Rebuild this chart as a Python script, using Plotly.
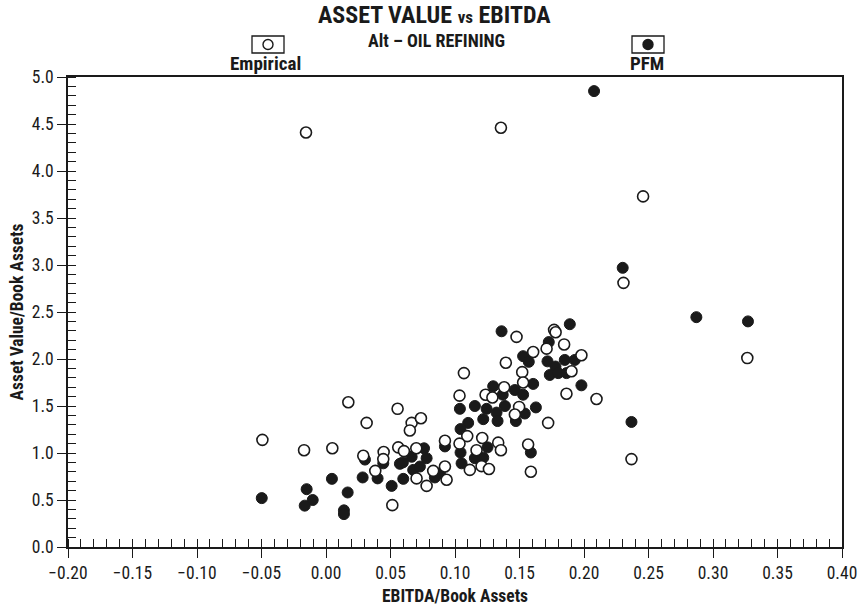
import plotly.graph_objects as go

# Empirical (open circles)
emp_x = [-0.0155, 0.1356, 0.2458, 0.2306, 0.3266, 0.198, 0.2097, 0.2368, -0.0493, -0.017,
         0.0049, 0.0173, 0.0315, 0.0555, 0.0664, 0.0736, 0.065, 0.0289, 0.0447, 0.0444,
         0.0382, 0.0514, 0.056, 0.0604, 0.070, 0.0702, 0.078, 0.0831, 0.1035, 0.1237,
         0.129, 0.1864, 0.1497, 0.1464, 0.1722, 0.1095, 0.0922, 0.1035, 0.1115, 0.1211,
         0.1167, 0.1206, 0.1263, 0.1335, 0.1356, 0.1567, 0.1588, 0.0922, 0.0935, 0.1477,
         0.1768, 0.178, 0.171, 0.1846, 0.1606, 0.1903, 0.1394, 0.1521, 0.1069, 0.1381,
         0.1528]
emp_y = [4.41, 4.46, 3.73, 2.81, 2.01, 2.04, 1.575, 0.935, 1.14, 1.03,
         1.05, 1.54, 1.32, 1.47, 1.32, 1.37, 1.24, 0.97, 1.01, 0.935,
         0.81, 0.445, 1.06, 1.02, 1.05, 0.73, 0.65, 0.81, 1.61, 1.62,
         1.59, 1.63, 1.49, 1.41, 1.32, 1.18, 1.13, 1.10, 0.82, 1.16,
         1.03, 0.86, 0.83, 1.11, 1.03, 1.09, 0.80, 0.856, 0.715, 2.235,
         2.31, 2.285, 2.11, 2.155, 2.075, 1.87, 1.96, 1.86, 1.85, 1.70,
         1.75]

# PFM (filled circles)
pfm_x = [0.2078, 0.230, 0.2871, 0.3271, 0.198, 0.2368, -0.0498, -0.015, -0.0103, -0.0165,
         0.0046, 0.0168, 0.0139, 0.0139, 0.0302, 0.0284, 0.040, 0.0444, 0.0509, 0.0599,
         0.0664, 0.0573, 0.0596, 0.0676, 0.0728, 0.076, 0.078, 0.137, 0.1464, 0.1528,
         0.1038, 0.1154, 0.1245, 0.1322, 0.1387, 0.1219, 0.133, 0.1472, 0.1541, 0.1627,
         0.1102, 0.1043, 0.0922, 0.1043, 0.1051, 0.1252, 0.1154, 0.1219, 0.1588, 0.0883,
         0.0844, 0.1361, 0.189, 0.1727, 0.1528, 0.1572, 0.1717, 0.1779, 0.1851, 0.1735,
         0.18, 0.1864, 0.1929, 0.1296, 0.1606]
pfm_y = [4.85, 2.97, 2.445, 2.40, 1.72, 1.33, 0.52, 0.615, 0.50, 0.44,
         0.725, 0.58, 0.39, 0.35, 0.93, 0.74, 0.73, 0.89, 0.65, 0.725,
         0.96, 0.885, 0.90, 0.82, 0.856, 1.05, 0.945, 1.62, 1.67, 1.62,
         1.47, 1.50, 1.47, 1.43, 1.50, 1.36, 1.34, 1.34, 1.42, 1.485,
         1.32, 1.255, 1.07, 1.005, 0.89, 1.06, 0.945, 0.95, 1.005, 0.785,
         0.74, 2.295, 2.37, 2.18, 2.03, 1.97, 1.975, 1.92, 1.99, 1.83,
         1.85, 1.85, 1.99, 1.71, 1.735]

title_main = "ASSET VALUE vs EBITDA"
title_sub = "Alt – OIL REFINING"
legend_names = ["Empirical", "PFM"]
x_title = "EBITDA/Book Assets"
y_title = "Asset Value/Book Assets"

FONT = "Liberation Sans Narrow, Arial Narrow, Roboto Condensed, Liberation Sans, sans-serif"
INK = "#1a1a1a"

fig = go.Figure()
fig.add_trace(go.Scatter(x=pfm_x, y=pfm_y, mode="markers", name=legend_names[1],
                         marker=dict(symbol="circle", size=11, color=INK,
                                     line=dict(color=INK, width=1))))
fig.add_trace(go.Scatter(x=emp_x, y=emp_y, mode="markers", name=legend_names[0],
                         marker=dict(symbol="circle", size=11, color="white",
                                     line=dict(color=INK, width=1.6))))

W, H = 866, 609
ml, mr, mt, mb = 68, 24, 77, 62

fig.update_layout(
    width=W, height=H,
    margin=dict(l=ml, r=mr, t=mt, b=mb, autoexpand=False),
    paper_bgcolor="white", plot_bgcolor="white",
    showlegend=False,
    font=dict(family=FONT, color=INK, size=15),
)
fig.update_xaxes(
    range=[-0.20, 0.40], dtick=0.05, tickformat=".2f",
    showgrid=False, zeroline=False, automargin=False,
    showline=True, linecolor=INK, linewidth=1.5, mirror=True,
    ticks="outside", ticklen=9, tickwidth=1.3, tickcolor=INK,
    minor=dict(ticks="inside", dtick=0.01, ticklen=8, tickwidth=1, tickcolor=INK, showgrid=False),
    tickfont=dict(family=FONT, size=17.5, color=INK),
    title=dict(text="<b>" + x_title + "</b>", font=dict(family=FONT, size=17.5, color=INK), standoff=8),
)
fig.update_yaxes(
    range=[0, 5.0], dtick=0.5, tickformat=".1f",
    showgrid=False, zeroline=False, automargin=False,
    showline=True, linecolor=INK, linewidth=1.5, mirror=True,
    ticks="outside", ticklen=9, tickwidth=1.3, tickcolor=INK,
    minor=dict(ticks="inside", dtick=0.1, ticklen=8, tickwidth=1, tickcolor=INK, showgrid=False),
    tickfont=dict(family=FONT, size=17.5, color=INK),
    title=dict(text="<b>" + y_title + "</b>", font=dict(family=FONT, size=17.5, color=INK), standoff=4),
)

# xref/yref 'paper' are relative to the plot area; convert pixels
PW = W - ml - mr
PH = H - mt - mb

def ppx(p):
    return (p - ml) / PW

def ppy(p):
    return (H - mb - p) / PH

anns = [
    dict(text="<b>ASSET VALUE <span style='font-size:17px'>vs</span> EBITDA</b>",
         x=ppx(434), y=ppy(15), font=dict(size=24)),
    dict(text="<b>" + title_sub + "</b>", x=ppx(436), y=ppy(40), font=dict(size=18)),
    dict(text="<b>" + legend_names[0] + "</b>", x=ppx(265), y=ppy(64), font=dict(size=19)),
    dict(text="<b>" + legend_names[1] + "</b>", x=ppx(647), y=ppy(64), font=dict(size=19)),
]
for a in anns:
    a.update(xref="paper", yref="paper", showarrow=False, xanchor="center", yanchor="middle")
    a["font"].update(family=FONT, color=INK)
fig.update_layout(annotations=anns)

shapes = []
for (x0, x1) in [(252, 284), (632, 664)]:
    shapes.append(dict(type="rect", xref="paper", yref="paper",
                       x0=ppx(x0), x1=ppx(x1), y0=ppy(53), y1=ppy(36),
                       line=dict(color=INK, width=1.3), fillcolor="white"))
for (cx, filled) in [(268, False), (648, True)]:
    shapes.append(dict(type="circle", xref="paper", yref="paper",
                       x0=ppx(cx - 5), x1=ppx(cx + 5), y0=ppy(49.5), y1=ppy(39.5),
                       line=dict(color=INK, width=1.4),
                       fillcolor=INK if filled else "white"))
fig.update_layout(shapes=shapes)

fig.write_html("out.html")
